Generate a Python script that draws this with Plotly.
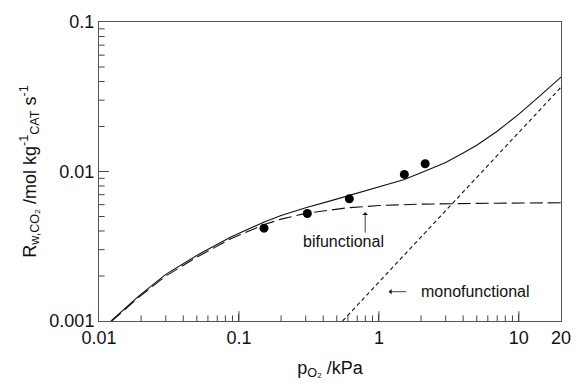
import plotly.graph_objects as go

# Measured data points
p_exp = [0.151, 0.308, 0.615, 1.52, 2.14]
R_exp = [0.00418, 0.00524, 0.00656, 0.00956, 0.01127]

# Model curve (total)
p_tot = [0.0122, 0.0194, 0.030, 0.051, 0.0875, 0.15, 0.20, 0.30, 0.45, 0.60, 1.0, 1.5, 2.0,
         3.0, 4.0, 5.0, 7.0, 10, 14, 20]
R_tot = [0.00100, 0.00148, 0.00205, 0.00277, 0.00365, 0.00457, 0.00508, 0.00573, 0.00636, 0.00687,
         0.0078, 0.0088, 0.0098, 0.0115, 0.0133, 0.0150, 0.0186, 0.0242, 0.0318, 0.0428]

# Bifunctional contribution (long dashes)
p_bi = [0.0122, 0.0194, 0.030, 0.051, 0.0875, 0.15, 0.20, 0.30, 0.45, 0.60, 1.0, 2.0, 5.0, 10, 20]
R_bi = [0.00099, 0.00145, 0.00200, 0.00270, 0.00355, 0.00440, 0.00480, 0.00525, 0.00552, 0.00572,
        0.00592, 0.00605, 0.00612, 0.00616, 0.00618]

# Monofunctional contribution (short dashes)
p_mono = [0.55, 2.0, 20]
R_mono = [0.00100, 0.00366, 0.0366]

x_ticks = [0.01, 0.1, 1, 10, 20]
x_ticktext = ["0.01", "0.1", "1", "10", "20"]
x_minor = [0.02, 0.03, 0.04, 0.05, 0.06, 0.07, 0.08, 0.09,
           0.2, 0.3, 0.4, 0.5, 0.6, 0.7, 0.8, 0.9,
           2, 3, 4, 5, 6, 7, 8, 9]
y_ticks = [0.001, 0.01, 0.1]
y_ticktext = ["0.001", "0.01", "0.1"]
y_minor = [0.002, 0.003, 0.004, 0.005, 0.006, 0.007, 0.008, 0.009,
           0.02, 0.03, 0.04, 0.05, 0.06, 0.07, 0.08, 0.09]

FONT = "Liberation Sans, Arial, Helvetica, sans-serif"
INK = "#111111"
TICK = "#444444"
XR = [-2, 1.30103]
YR = [-3, -1]
x_lo = 10 ** XR[0]
y_lo = 10 ** YR[0]

fig = go.Figure()
fig.add_trace(go.Scatter(x=p_mono, y=R_mono, mode="lines",
                         line=dict(color=INK, width=1.1, dash="4px,3px"), showlegend=False))
fig.add_trace(go.Scatter(x=p_bi, y=R_bi, mode="lines",
                         line=dict(color=INK, width=1.1, dash="13px,5px"), showlegend=False))
fig.add_trace(go.Scatter(x=p_tot, y=R_tot, mode="lines",
                         line=dict(color=INK, width=1.1), showlegend=False))
fig.add_trace(go.Scatter(x=p_exp, y=R_exp, mode="markers",
                         marker=dict(color="black", size=9), showlegend=False))


# inward tick marks, drawn as clipped line markers on the axis edges
def tick_trace(xs, ys, symbol, size):
    return go.Scatter(x=xs, y=ys, mode="markers", cliponaxis=True, hoverinfo="skip", showlegend=False,
                      marker=dict(symbol=symbol, size=size, color=TICK,
                                  line=dict(color=TICK, width=1)))


fig.add_trace(tick_trace(x_ticks[1:4], [y_lo] * 3, "line-ns", 14))
fig.add_trace(tick_trace(x_minor, [y_lo] * len(x_minor), "line-ns", 8))
fig.add_trace(tick_trace([x_lo], y_ticks[1:2], "line-ew", 14))
fig.add_trace(tick_trace([x_lo] * len(y_minor), y_minor, "line-ew", 8))

axis_common = dict(
    type="log", showgrid=False, zeroline=False, showline=True, linecolor="#555555", linewidth=1,
    mirror=True, ticks="inside", ticklen=7, tickcolor=TICK, tickwidth=1,
    tickfont=dict(family=FONT, size=18, color=INK),
)

fig.update_layout(
    xaxis=dict(**axis_common, range=XR, tickvals=x_ticks, ticktext=x_ticktext,
               title=dict(text="p<sub>O₂</sub> /kPa", font=dict(family=FONT, size=18, color=INK),
                          standoff=14)),
    yaxis=dict(**axis_common, range=YR, tickvals=y_ticks, ticktext=y_ticktext,
               title=dict(text="R<sub>w,CO₂</sub> /mol kg<sup>-1</sup><sub>CAT</sub> s<sup>-1</sup>",
                          font=dict(family=FONT, size=18, color=INK), standoff=8)),
)

# annotations
fig.add_annotation(x=-0.098, y=-2.272, xref="x", yref="y", ax=0, ay=22, axref="pixel", ayref="pixel",
                   showarrow=True, arrowhead=1, arrowsize=1.2, arrowwidth=0.8, arrowcolor=INK, text="")
fig.add_annotation(x=-0.25, y=-2.47, xref="x", yref="y", text="bifunctional", showarrow=False,
                   font=dict(family=FONT, size=16, color=INK))
fig.add_annotation(x=0.07, y=-2.804, xref="x", yref="y", ax=19, ay=0, axref="pixel", ayref="pixel",
                   showarrow=True, arrowhead=1, arrowsize=1.2, arrowwidth=0.8, arrowcolor=INK, text="")
fig.add_annotation(x=0.69, y=-2.804, xref="x", yref="y", text="monofunctional", showarrow=False,
                   font=dict(family=FONT, size=16, color=INK))

fig.update_layout(
    width=583, height=389, margin=dict(l=99, r=12, t=15, b=68),
    paper_bgcolor="white", plot_bgcolor="white",
)

fig.write_html("out.html")
